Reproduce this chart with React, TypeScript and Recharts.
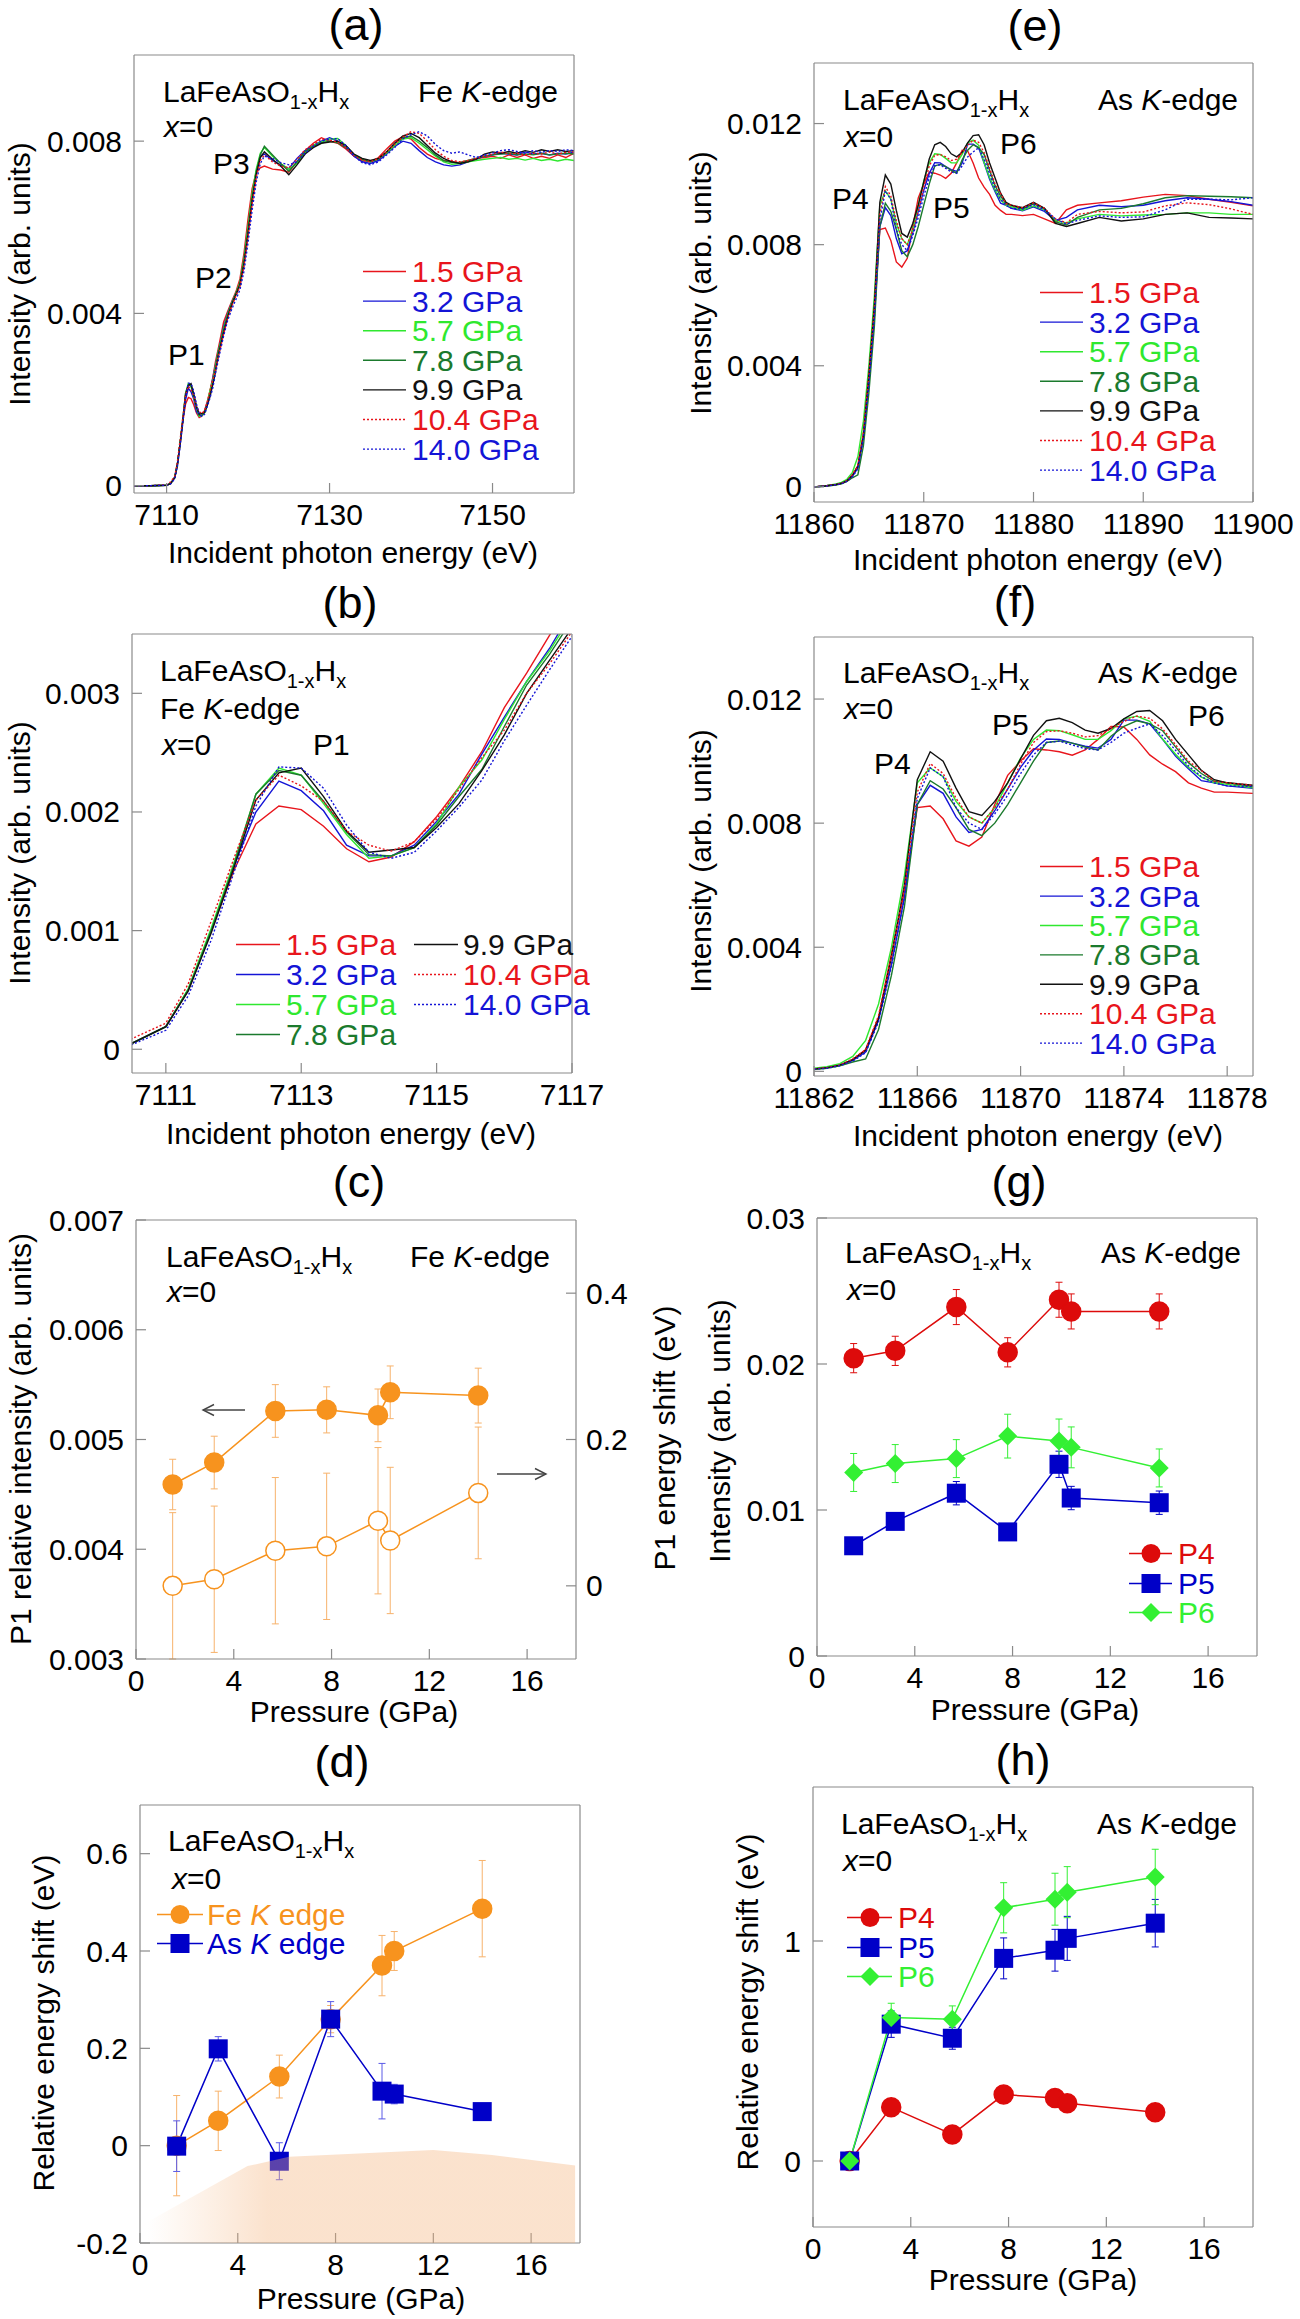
import React from 'react'
import { ComposedChart, Line, Area, XAxis, YAxis, ErrorBar } from 'recharts'

const FONT = "'Liberation Sans', Arial, Helvetica, sans-serif"

// ---- colours ----
const RED = '#e8151c'
const BLUE = '#1414d6'
const LGREEN = '#2fe82f'
const DGREEN = '#1b7a2d'
const BLACK = '#111111'
const ORANGE = '#f7931e'
const ORANGE_ERR = '#f7b26b'
const M_RED = '#dd0b0b'
const M_BLUE = '#0000c8'
const M_GREEN = '#33f033'
const GRAY = '#8a8a8a'

// ---- Fe K-edge spectra (panels a, b) ----
const FE_E = [
  7106, 7108, 7110, 7110.5, 7111, 7111.33, 7111.67, 7112, 7112.33, 7112.67,
  7113, 7113.33, 7113.67, 7114, 7114.33, 7114.67, 7115, 7115.33, 7115.67, 7116,
  7116.33, 7116.67, 7117, 7117.5, 7118, 7118.5, 7119, 7119.5, 7120, 7120.5,
  7121, 7121.5, 7122, 7123, 7124, 7125, 7126, 7127, 7128, 7129,
  7130, 7131, 7132, 7133, 7134, 7135, 7136, 7137, 7138, 7139,
  7140, 7141, 7142, 7143, 7144, 7145, 7146, 7147, 7148, 7149,
  7150, 7151, 7152, 7153, 7154, 7155, 7156, 7157, 7158, 7159, 7160,
]
const FE_P15 = [
  0, 0, 0.00001, 0.00005, 0.00019, 0.0005, 0.001, 0.0015, 0.0019, 0.00205,
  0.00202, 0.00188, 0.00169, 0.00158, 0.00162, 0.00175, 0.00196, 0.00221, 0.00251, 0.00288,
  0.00317, 0.00349, 0.0038, 0.00405, 0.00428, 0.0045, 0.0048, 0.0054, 0.0062, 0.0069,
  0.00728, 0.00738, 0.00742, 0.00735, 0.00733, 0.00728, 0.00752, 0.00778, 0.00795, 0.00808,
  0.008, 0.00795, 0.00782, 0.00765, 0.00755, 0.00752, 0.00762, 0.00782, 0.008, 0.0081,
  0.00805, 0.00785, 0.0077, 0.0076, 0.00755, 0.00752, 0.0075, 0.00755, 0.0076, 0.00762,
  0.00765, 0.0076, 0.00768, 0.00762, 0.00768, 0.0076, 0.00765, 0.0076, 0.00768, 0.00762, 0.00772,
]
const FE_P32 = [
  0, 0, 0.00001, 0.00005, 0.00019, 0.0005, 0.001, 0.00154, 0.002, 0.00226,
  0.00218, 0.00201, 0.00172, 0.00163, 0.00163, 0.00172, 0.00192, 0.00215, 0.00249, 0.0028,
  0.0031, 0.00338, 0.0037, 0.004, 0.00425, 0.00446, 0.0047, 0.00525, 0.00598, 0.00672,
  0.0073, 0.00765, 0.0077, 0.00755, 0.00745, 0.00736, 0.0076, 0.00778, 0.0079, 0.008,
  0.00808, 0.008, 0.00785, 0.00765, 0.00752, 0.00748, 0.00755, 0.0077, 0.00788, 0.008,
  0.00795, 0.00778, 0.00762, 0.00752, 0.00745, 0.00742, 0.00745, 0.00752, 0.00758, 0.00765,
  0.00768, 0.00772, 0.0077, 0.00768, 0.00775, 0.0077, 0.00772, 0.00768, 0.00772, 0.0077, 0.00775,
]
const FE_P57 = [
  0, 0, 0.00001, 0.00005, 0.00019, 0.00051, 0.00102, 0.00156, 0.00215, 0.00237,
  0.00231, 0.00207, 0.00181, 0.00161, 0.00163, 0.0017, 0.0019, 0.00221, 0.00244, 0.00278,
  0.0031, 0.00336, 0.00366, 0.00398, 0.00424, 0.00447, 0.00472, 0.00528, 0.00602, 0.00678,
  0.00735, 0.00772, 0.00785, 0.00765, 0.00748, 0.00735, 0.00748, 0.00772, 0.0079, 0.00798,
  0.00805, 0.00806, 0.0079, 0.00768, 0.00757, 0.00752, 0.0076, 0.00772, 0.0079, 0.00805,
  0.00808, 0.00795, 0.0078, 0.00765, 0.00752, 0.00746, 0.00748, 0.00752, 0.00755, 0.00758,
  0.0076, 0.00762, 0.00758, 0.0076, 0.00756, 0.0076, 0.00755, 0.00758, 0.00754, 0.00758, 0.00755,
]
const FE_P78 = [
  0, 0, 0.00001, 0.00005, 0.00019, 0.0005, 0.001, 0.00154, 0.00215, 0.00235,
  0.00231, 0.00209, 0.00183, 0.00164, 0.00163, 0.0017, 0.00189, 0.00213, 0.00236, 0.00272,
  0.00307, 0.00333, 0.00362, 0.00396, 0.00422, 0.00445, 0.00468, 0.0052, 0.00592, 0.00668,
  0.00728, 0.00768, 0.00788, 0.00768, 0.00748, 0.0073, 0.00752, 0.00776, 0.00788, 0.00796,
  0.008, 0.00796, 0.00785, 0.00768, 0.00758, 0.00752, 0.00758, 0.00775, 0.00795, 0.00808,
  0.00812, 0.008, 0.00785, 0.00768, 0.00755, 0.0075, 0.0075, 0.00755, 0.0076, 0.00765,
  0.00768, 0.0077, 0.00772, 0.00768, 0.0077, 0.00768, 0.00772, 0.00768, 0.0077, 0.00772, 0.0077,
]
const FE_P99 = [
  0, 0, 0.00001, 0.00005, 0.00019, 0.00049, 0.00098, 0.00152, 0.0021, 0.00233,
  0.00237, 0.00213, 0.00184, 0.00166, 0.00168, 0.0017, 0.00187, 0.00207, 0.00235, 0.00265,
  0.003, 0.00328, 0.00355, 0.00392, 0.0042, 0.00443, 0.00466, 0.00515, 0.00586, 0.00662,
  0.00722, 0.00762, 0.00775, 0.00758, 0.00742, 0.00722, 0.00745, 0.0077, 0.00785, 0.00795,
  0.00798, 0.008, 0.0079, 0.0077, 0.0076, 0.00755, 0.0076, 0.00775, 0.00795, 0.00812,
  0.00818, 0.00808, 0.0079, 0.00772, 0.0076, 0.00752, 0.00748, 0.00752, 0.00758, 0.0077,
  0.00775, 0.00772, 0.00776, 0.00772, 0.00778, 0.00774, 0.0078, 0.00776, 0.0078, 0.00776, 0.00778,
]
const FE_P104 = [
  0, 0, 0.00002, 0.00009, 0.00022, 0.00055, 0.00108, 0.0016, 0.0021, 0.00231,
  0.00222, 0.00209, 0.00184, 0.00172, 0.00167, 0.00175, 0.00194, 0.00219, 0.00246, 0.00269,
  0.003, 0.00325, 0.00352, 0.0039, 0.00417, 0.0044, 0.00463, 0.0051, 0.0058, 0.00655,
  0.00716, 0.00755, 0.00768, 0.00752, 0.00742, 0.00738, 0.00758, 0.0078, 0.00792, 0.00805,
  0.00802, 0.00798, 0.00785, 0.00766, 0.00756, 0.00752, 0.0076, 0.00775, 0.00793, 0.0081,
  0.00822, 0.00818, 0.008, 0.0078, 0.00765, 0.00755, 0.00752, 0.00755, 0.0076, 0.00765,
  0.0077, 0.00775, 0.0077, 0.00772, 0.00768, 0.00772, 0.0077, 0.00775, 0.0077, 0.00774, 0.00775,
]
const FE_P140 = [
  0, 0, 0.00001, 0.00004, 0.00016, 0.00045, 0.00092, 0.00148, 0.00205, 0.00238,
  0.00237, 0.0022, 0.00189, 0.00166, 0.00161, 0.00166, 0.00184, 0.00204, 0.00227, 0.0026,
  0.0029, 0.0032, 0.00348, 0.00384, 0.0041, 0.00432, 0.00455, 0.00498, 0.00565, 0.0064,
  0.00705, 0.00748, 0.00765, 0.0076, 0.0075, 0.00745, 0.00752, 0.00772, 0.00788, 0.008,
  0.00805, 0.00806, 0.0079, 0.00766, 0.0075, 0.00745, 0.00752, 0.00768, 0.00785, 0.00805,
  0.00815, 0.00822, 0.00812, 0.00792, 0.00778, 0.00772, 0.00775, 0.00768, 0.00762, 0.00768,
  0.00772, 0.00778, 0.0078, 0.00776, 0.00772, 0.00778, 0.00774, 0.00778, 0.00776, 0.0078, 0.00778,
]

// ---- As K-edge spectra (panels e, f) ----
const AS_E = [
  11860, 11861, 11862, 11862.5, 11863, 11863.5, 11864, 11864.5, 11865, 11865.5,
  11866, 11866.5, 11867, 11867.5, 11868, 11868.5, 11869, 11869.5, 11870, 11870.5,
  11871, 11871.5, 11872, 11872.5, 11873, 11873.5, 11874, 11874.5, 11875, 11875.5,
  11876, 11876.5, 11877, 11877.5, 11878, 11879, 11880, 11881, 11882, 11883,
  11884, 11886, 11888, 11890, 11892, 11894, 11896, 11898, 11900,
]
const AS_P15 = [
  0, 0.00003, 0.00008, 0.00012, 0.0002, 0.00038, 0.0007, 0.00175, 0.0038, 0.0058,
  0.0085, 0.00855, 0.00814, 0.00743, 0.00726, 0.00755, 0.0086, 0.00954, 0.01, 0.0104,
  0.01036, 0.0103, 0.01019, 0.01036, 0.0107, 0.01112, 0.0111, 0.0107, 0.0102, 0.0099,
  0.00966, 0.0093, 0.00913, 0.009, 0.009, 0.00896, 0.009, 0.00885, 0.0087, 0.00915,
  0.0093, 0.00938, 0.00945, 0.00957, 0.00966, 0.00962, 0.0095, 0.0094, 0.00928,
]
const AS_P32 = [
  0, 0.00003, 0.00008, 0.00012, 0.0002, 0.00035, 0.00062, 0.00165, 0.00345, 0.0056,
  0.0086, 0.00922, 0.00896, 0.0082, 0.0077, 0.0078, 0.0084, 0.0091, 0.0098, 0.01035,
  0.01071, 0.0107, 0.01058, 0.01048, 0.01042, 0.0107, 0.01132, 0.01132, 0.0112, 0.0107,
  0.01016, 0.00975, 0.00937, 0.0093, 0.0092, 0.00912, 0.00925, 0.0091, 0.0088, 0.0089,
  0.00915, 0.0093, 0.00925, 0.0093, 0.00945, 0.00955, 0.0095, 0.00942, 0.0093,
]
const AS_P57 = [
  0, 0.00003, 0.0001, 0.00015, 0.00025, 0.00048, 0.001, 0.00217, 0.004, 0.0063,
  0.0093, 0.00978, 0.0095, 0.0087, 0.0082, 0.008, 0.0085, 0.0093, 0.0101, 0.0107,
  0.011, 0.01098, 0.01085, 0.0107, 0.0107, 0.01098, 0.01136, 0.01145, 0.01128, 0.01071,
  0.01022, 0.0098, 0.00948, 0.0093, 0.00925, 0.00914, 0.00928, 0.00915, 0.0088, 0.00872,
  0.00885, 0.009, 0.00895, 0.00898, 0.009, 0.00905, 0.00905, 0.009, 0.009,
]
const AS_P78 = [
  0, 0.00002, 0.00006, 0.0001, 0.00018, 0.0003, 0.0004, 0.00135, 0.0031, 0.0053,
  0.0086, 0.00937, 0.0091, 0.0085, 0.0078, 0.0076, 0.008, 0.0086, 0.0093, 0.01,
  0.0106, 0.01065, 0.01058, 0.01045, 0.01036, 0.0108, 0.01112, 0.0113, 0.0112, 0.01098,
  0.01046, 0.00995, 0.0096, 0.00935, 0.0093, 0.00918, 0.00935, 0.0092, 0.00875, 0.00865,
  0.0089, 0.00915, 0.0092, 0.00935, 0.00955, 0.00962, 0.0096, 0.00958, 0.00955,
]
const AS_P99 = [
  0, 0.00003, 0.00008, 0.00012, 0.0002, 0.00038, 0.00068, 0.0017, 0.0037, 0.006,
  0.0094, 0.0103, 0.01, 0.00913, 0.00837, 0.00825, 0.0087, 0.0093, 0.01007, 0.01083,
  0.0113, 0.01138, 0.01124, 0.011, 0.0109, 0.01105, 0.01136, 0.0116, 0.01163, 0.0113,
  0.0107, 0.0102, 0.0097, 0.0094, 0.0093, 0.00922, 0.0094, 0.0092, 0.0087, 0.0086,
  0.0087, 0.0089, 0.00878, 0.00885, 0.009, 0.00905, 0.0089, 0.00888, 0.00885,
]
const AS_P104 = [
  0, 0.00003, 0.00008, 0.00012, 0.0002, 0.0004, 0.0007, 0.0018, 0.0037, 0.0059,
  0.009, 0.00992, 0.0096, 0.0088, 0.0082, 0.008, 0.0085, 0.0091, 0.0099, 0.0106,
  0.01095, 0.01098, 0.0109, 0.01078, 0.01082, 0.01105, 0.01128, 0.01145, 0.01138, 0.01104,
  0.01053, 0.01, 0.0097, 0.00935, 0.0093, 0.00922, 0.00938, 0.0092, 0.00885, 0.00872,
  0.009, 0.0091, 0.00905, 0.00908, 0.00928, 0.00938, 0.00932, 0.00918, 0.009,
]
const AS_P140 = [
  0, 0.00002, 0.00007, 0.0001, 0.00018, 0.00033, 0.0006, 0.0016, 0.0034, 0.0056,
  0.0088, 0.00978, 0.0095, 0.0085, 0.008, 0.0078, 0.0083, 0.0089, 0.0096, 0.0102,
  0.0106, 0.01064, 0.01052, 0.0104, 0.01036, 0.0106, 0.0109, 0.01106, 0.0112, 0.01082,
  0.01035, 0.00985, 0.0095, 0.0093, 0.0092, 0.00918, 0.00932, 0.00915, 0.00885, 0.00868,
  0.0088, 0.00895, 0.0089, 0.00892, 0.00915, 0.0095, 0.0095, 0.00948, 0.00955,
]

const SPECTRA = [
  { key: 'p15', label: '1.5 GPa', color: RED, dotted: false },
  { key: 'p32', label: '3.2 GPa', color: BLUE, dotted: false },
  { key: 'p57', label: '5.7 GPa', color: LGREEN, dotted: false },
  { key: 'p78', label: '7.8 GPa', color: DGREEN, dotted: false },
  { key: 'p99', label: '9.9 GPa', color: BLACK, dotted: false },
  { key: 'p104', label: '10.4 GPa', color: RED, dotted: true },
  { key: 'p140', label: '14.0 GPa', color: BLUE, dotted: true },
]

// ---- pressure dependences (panels c, d, g, h) ----
const PRESSURE = [1.5, 3.2, 5.7, 7.8, 9.9, 10.4, 14.0]

const P1_INT = [0.00459, 0.00479, 0.00526, 0.00527, 0.00522, 0.00543, 0.0054]
const P1_INT_ERR = [0.00023, 0.00024, 0.00024, 0.00021, 0.00024, 0.00024, 0.00025]
const P1_SHIFT = [0.0, 0.009, 0.048, 0.054, 0.089, 0.062, 0.127]
const P1_SHIFT_ERR = [0.1, 0.1, 0.1, 0.1, 0.1, 0.1, 0.09]

const FE_SHIFT = [0.0, 0.051, 0.142, 0.26, 0.37, 0.4, 0.487]
const FE_SHIFT_ERR = [0.103, 0.061, 0.044, 0.028, 0.062, 0.04, 0.099]
const AS_SHIFT = [-0.001, 0.199, -0.032, 0.26, 0.112, 0.106, 0.07]
const AS_SHIFT_ERR = [0.052, 0.025, 0.038, 0.036, 0.057, 0.02, 0.012]
const SHADE_P = [0.3, 4.4, 6.1, 12.0, 14.4, 17.8]
const SHADE_TOP = [-0.157, -0.042, -0.023, -0.009, -0.019, -0.041]

const P4_INT = [0.0204, 0.0209, 0.0239, 0.0208, 0.0244, 0.0236, 0.0236]
const P4_INT_ERR = [0.001, 0.001, 0.0012, 0.001, 0.0012, 0.0012, 0.0012]
const P5_INT = [0.00755, 0.00922, 0.01115, 0.0085, 0.01313, 0.01082, 0.0105]
const P5_INT_ERR = [0.0003, 0.0003, 0.0008, 0.0003, 0.0009, 0.0008, 0.0008]
const P6_INT = [0.01257, 0.01318, 0.01352, 0.01506, 0.01473, 0.01429, 0.01288]
const P6_INT_ERR = [0.0013, 0.0013, 0.0013, 0.0015, 0.0015, 0.0014, 0.0013]

const P4_SHIFT = [0, 0.244, 0.121, 0.302, 0.286, 0.262, 0.222]
const P5_SHIFT = [0, 0.622, 0.558, 0.921, 0.958, 1.012, 1.081]
const P5_SHIFT_ERR = [0.02, 0.06, 0.05, 0.093, 0.095, 0.1, 0.108]
const P6_SHIFT = [0, 0.652, 0.644, 1.151, 1.19, 1.222, 1.291]
const P6_SHIFT_ERR = [0.02, 0.065, 0.061, 0.114, 0.118, 0.116, 0.126]

// ---- tables ----
const feRows = FE_E.map((e, i) => ({
  e, p15: FE_P15[i], p32: FE_P32[i], p57: FE_P57[i], p78: FE_P78[i],
  p99: FE_P99[i], p104: FE_P104[i], p140: FE_P140[i],
}))
const asRows = AS_E.map((e, i) => ({
  e, p15: AS_P15[i], p32: AS_P32[i], p57: AS_P57[i], p78: AS_P78[i],
  p99: AS_P99[i], p104: AS_P104[i], p140: AS_P140[i],
}))
const cRows = PRESSURE.map((p, i) => ({
  p, int: P1_INT[i], intErr: P1_INT_ERR[i], shift: P1_SHIFT[i], shiftErr: P1_SHIFT_ERR[i],
}))
const dRows = PRESSURE.map((p, i) => ({
  p, fe: FE_SHIFT[i], feErr: FE_SHIFT_ERR[i], as: AS_SHIFT[i], asErr: AS_SHIFT_ERR[i],
}))
const shadeRows = SHADE_P.map((p, i) => ({ p, shade: SHADE_TOP[i] }))
const gRows = PRESSURE.map((p, i) => ({
  p, p4: P4_INT[i], p4Err: P4_INT_ERR[i], p5: P5_INT[i], p5Err: P5_INT_ERR[i],
  p6: P6_INT[i], p6Err: P6_INT_ERR[i],
}))
const hRows = PRESSURE.map((p, i) => ({
  p, p4: P4_SHIFT[i], p5: P5_SHIFT[i], p5Err: P5_SHIFT_ERR[i], p6: P6_SHIFT[i], p6Err: P6_SHIFT_ERR[i],
}))

// plot boxes on the page: [left, top, right, bottom]
const BOX = {
  a: [134, 55, 574, 493],
  b: [132, 634, 572, 1073],
  c: [136, 1220, 576, 1659],
  d: [140, 1805, 580, 2243],
  e: [814, 63, 1253, 502],
  f: [814, 637, 1253, 1076],
  g: [817, 1218, 1257, 1656],
  h: [813, 1787, 1253, 2227],
}

const steps = (a: number, b: number, s: number) => {
  const out: number[] = []
  for (let v = a; v <= b + s * 1e-6; v += s) out.push(+v.toFixed(6))
  return out
}

const TXT = { fontSize: 30, fontFamily: FONT, fill: '#000' }
const AX = { stroke: GRAY, strokeWidth: 1.2 }
const MAJOR = 10
const MINOR = 5.5
// every side carries two 1px axes (minor ticks, then major ticks / labels)
const AXIS_PX = 1
const PER_SIDE = 2

const bottomTick = (p: any) => (
  <text x={p.x} y={p.y + 21} textAnchor="middle" {...TXT}>{String(p.payload.value)}</text>
)
const leftTick = (p: any) => (
  <text x={p.x} y={p.y + 10.5} textAnchor="end" {...TXT}>{String(p.payload.value)}</text>
)
const rightTick = (p: any) => (
  <text x={p.x} y={p.y + 10.5} textAnchor="start" {...TXT}>{String(p.payload.value)}</text>
)

// Boxed frame with inward ticks on all four sides.
function frame(o: any) {
  const base = { type: 'number' as const, allowDataOverflow: true, interval: 0 as const, tickLine: AX }
  const xMinor = o.xMinor ?? o.xTicks
  const yMinor = o.yMinor ?? o.yTicks
  const r = o.right
  const rDomain = r ? r.domain : o.y
  const rMinor = r ? r.minor : yMinor
  return [
    <XAxis key="xbm" xAxisId="xbm" orientation="bottom" height={AXIS_PX} {...base} domain={o.x} ticks={xMinor} tick={false} tickSize={-MINOR} axisLine={false} />,
    <XAxis key="xtm" xAxisId="xtm" orientation="top" height={AXIS_PX} {...base} domain={o.x} ticks={xMinor} tick={false} tickSize={-MINOR} axisLine={false} />,
    <YAxis key="ylm" yAxisId="ylm" orientation="left" width={AXIS_PX} {...base} domain={o.y} ticks={yMinor} tick={false} tickSize={-MINOR} axisLine={false} />,
    <YAxis key="yrm" yAxisId="yrm" orientation="right" width={AXIS_PX} {...base} domain={rDomain} ticks={rMinor} tick={false} tickSize={-MINOR} axisLine={false} />,
    <XAxis key="xt" xAxisId="xt" orientation="top" height={AXIS_PX} {...base} domain={o.x} ticks={o.xTicks} tick={false} tickSize={-MAJOR} axisLine={AX} />,
    <YAxis key="yr" yAxisId="yr" orientation="right" width={AXIS_PX} {...base} domain={rDomain} ticks={r ? r.ticks : o.yTicks} tick={r ? rightTick : false} tickSize={-MAJOR} tickMargin={MAJOR + 10} axisLine={AX} />,
    <XAxis key="x" xAxisId="x" dataKey={o.xKey} orientation="bottom" height={AXIS_PX} {...base} domain={o.x} ticks={o.xTicks} tick={bottomTick} tickSize={-MAJOR} tickMargin={MAJOR + 11} axisLine={AX} />,
    <YAxis key="y" yAxisId="y" orientation="left" width={AXIS_PX} {...base} domain={o.y} ticks={o.yTicks} tick={leftTick} tickSize={-MAJOR} tickMargin={MAJOR + 12} axisLine={AX} />,
  ]
}

// bare = only hidden axes inside, so nothing takes space from the margin
function Panel({ box, data, right = 50, bare = false, children }: any) {
  const [x0, y0, x1, y1] = box
  const m = { top: 20, right, bottom: 60, left: 115 }
  const k = bare ? 0 : AXIS_PX * PER_SIDE
  return (
    <div style={{ position: 'absolute', left: x0 - m.left, top: y0 - m.top }}>
      <ComposedChart width={x1 - x0 + m.left + m.right} height={y1 - y0 + m.top + m.bottom} data={data}
        margin={{ top: m.top - k, right: m.right - k, bottom: m.bottom - k, left: m.left - k }}>
        {children}
      </ComposedChart>
    </div>
  )
}

const spectraLines = () =>
  SPECTRA.map((s) => (
    <Line key={s.key} type="linear" xAxisId="x" yAxisId="y" dataKey={s.key} stroke={s.color}
      strokeWidth={1.4} strokeDasharray={s.dotted ? '2 2' : undefined}
      dot={false} activeDot={false} isAnimationActive={false} />
  ))

// marker renderers
const R = 9.5
const circleDot = (fill: string, stroke = fill) => (p: any) =>
  p.cy == null ? <g key={`n${p.index}`} /> : (
    <circle key={`c${p.index}`} cx={p.cx} cy={p.cy} r={R} fill={fill} stroke={stroke} strokeWidth={1.5} />
  )
const squareDot = (fill: string) => (p: any) =>
  p.cy == null ? <g key={`n${p.index}`} /> : (
    <rect key={`s${p.index}`} x={p.cx - R} y={p.cy - R} width={2 * R} height={2 * R} fill={fill} />
  )
const diamondDot = (fill: string) => (p: any) =>
  p.cy == null ? <g key={`n${p.index}`} /> : (
    <polygon key={`d${p.index}`} fill={fill}
      points={`${p.cx},${p.cy - R} ${p.cx + R},${p.cy} ${p.cx},${p.cy + R} ${p.cx - R},${p.cy}`} />
  )

const pLine = (key: string, color: string, dot: any, yAxisId = 'y', err?: string, errColor = color) => (
  <Line key={key} type="linear" xAxisId="x" yAxisId={yAxisId} dataKey={key} stroke={color}
    strokeWidth={1.5} dot={dot} activeDot={false} isAnimationActive={false} connectNulls>
    {err ? <ErrorBar dataKey={err} width={3.5} stroke={errColor} strokeWidth={1} direction="y" /> : null}
  </Line>
)

// ---- text helpers ----
const T = { fontFamily: FONT, fontSize: 30, fill: '#000' }

const Formula = ({ x, y }: any) => (
  <text x={x} y={y} {...T}>
    LaFeAsO<tspan fontSize={20} dy={7}>1-x</tspan>
    <tspan dy={-7}>H</tspan>
    <tspan fontSize={20} dy={7}>x</tspan>
  </text>
)
const XZero = ({ x, y }: any) => (
  <text x={x} y={y} {...T}><tspan fontStyle="italic">x</tspan>=0</text>
)
const Edge = ({ x, y, el, anchor = 'end' }: any) => (
  <text x={x} y={y} textAnchor={anchor} {...T}>{el} <tspan fontStyle="italic">K</tspan>-edge</text>
)
const Title = ({ x, y, s }: any) => (
  <text x={x} y={y} textAnchor="middle" fontFamily={FONT} fontSize={45}>{s}</text>
)
const Plain = ({ x, y, s }: any) => <text x={x} y={y} {...T}>{s}</text>
const XLabel = ({ x, y, s }: any) => <text x={x} y={y} textAnchor="middle" {...T}>{s}</text>
const YLabel = ({ x, y, s }: any) => (
  <text transform={`translate(${x},${y}) rotate(-90)`} textAnchor="middle" dominantBaseline="central" {...T}>{s}</text>
)

const SpecLegend = ({ x0, x1, tx, ys, items }: any) => (
  <g>
    {items.map((s: any, i: number) => (
      <g key={s.key}>
        <line x1={x0} x2={x1} y1={ys[i] - 10.5} y2={ys[i] - 10.5} stroke={s.color} strokeWidth={1.4}
          strokeDasharray={s.dotted ? '2 2' : undefined} />
        <text x={tx} y={ys[i]} {...T} fill={s.color}>{s.label}</text>
      </g>
    ))}
  </g>
)

const MarkLegend = ({ x0, x1, mx, tx, y, color, marker, children }: any) => {
  const cy = y - 10.5
  let m: any = null
  if (marker === 'circle') m = <circle cx={mx} cy={cy} r={R} fill={color} />
  if (marker === 'square') m = <rect x={mx - R} y={cy - R} width={2 * R} height={2 * R} fill={color} />
  if (marker === 'diamond') m = <polygon fill={color} points={`${mx},${cy - R} ${mx + R},${cy} ${mx},${cy + R} ${mx - R},${cy}`} />
  return (
    <g>
      <line x1={x0} x2={x1} y1={cy} y2={cy} stroke={color} strokeWidth={1.5} />
      {m}
      <text x={tx} y={y} {...T} fill={color}>{children}</text>
    </g>
  )
}

function Overlay() {
  const aY = [282, 311.6, 341.2, 370.8, 400.4, 430, 459.6]
  const eY = [303, 332.6, 362.2, 391.8, 421.4, 451, 480.6]
  const fY = [877, 906.6, 936, 965.4, 994.8, 1024.2, 1053.6]
  return (
    <svg width={1300} height={2319} style={{ position: 'absolute', left: 0, top: 0, pointerEvents: 'none' }}>
      {/* (a) */}
      <Title x={356} y={40} s="(a)" />
      <Formula x={163} y={102} />
      <XZero x={164} y={137} />
      <Edge x={558} y={102} el="Fe" />
      <Plain x={168} y={365} s="P1" />
      <Plain x={195} y={288} s="P2" />
      <Plain x={213} y={174} s="P3" />
      <SpecLegend x0={363} x1={406} tx={412} ys={aY} items={SPECTRA} />
      <YLabel x={19} y={274} s="Intensity (arb. units)" />
      <XLabel x={353} y={563} s="Incident photon energy (eV)" />

      {/* (b) */}
      <Title x={350} y={618} s="(b)" />
      <Formula x={160} y={681} />
      <Edge x={160} y={719} el="Fe" anchor="start" />
      <XZero x={162} y={755} />
      <Plain x={313} y={755} s="P1" />
      <SpecLegend x0={236} x1={280} tx={286} ys={[955, 985, 1015, 1045]} items={SPECTRA.slice(0, 4)} />
      <SpecLegend x0={414} x1={458} tx={463} ys={[955, 985, 1015]} items={SPECTRA.slice(4)} />
      <YLabel x={19} y={853} s="Intensity (arb. units)" />
      <XLabel x={351} y={1144} s="Incident photon energy (eV)" />

      {/* (c) */}
      <Title x={359} y={1197} s="(c)" />
      <Formula x={166} y={1267} />
      <XZero x={167} y={1302} />
      <Edge x={550} y={1267} el="Fe" />
      <g stroke="#444" strokeWidth={1.4} fill="none">
        <line x1={245} y1={1410} x2={203} y2={1410} />
        <polyline points="214,1404.5 203,1410 214,1415.5" />
        <line x1={497} y1={1474} x2={546} y2={1474} />
        <polyline points="535,1468.5 546,1474 535,1479.5" />
      </g>
      <YLabel x={20} y={1439} s="P1 relative intensity (arb. units)" />
      <YLabel x={664} y={1438} s="P1 energy shift (eV)" />
      <XLabel x={354} y={1722} s="Pressure (GPa)" />

      {/* (d) */}
      <Title x={342} y={1777} s="(d)" />
      <Formula x={168} y={1851} />
      <XZero x={172} y={1889} />
      <MarkLegend x0={157} x1={203} mx={180} tx={207} y={1925} color={ORANGE} marker="circle">
        Fe <tspan fontStyle="italic">K</tspan> edge
      </MarkLegend>
      <MarkLegend x0={157} x1={203} mx={180} tx={207} y={1954} color={M_BLUE} marker="square">
        As <tspan fontStyle="italic">K</tspan> edge
      </MarkLegend>
      <YLabel x={43} y={2023} s="Relative energy shift (eV)" />
      <XLabel x={361} y={2309} s="Pressure (GPa)" />

      {/* (e) */}
      <Title x={1035} y={41} s="(e)" />
      <Formula x={843} y={110} />
      <XZero x={844} y={147} />
      <Edge x={1238} y={110} el="As" />
      <Plain x={832} y={209} s="P4" />
      <Plain x={933} y={218} s="P5" />
      <Plain x={1000} y={154} s="P6" />
      <SpecLegend x0={1040} x1={1083} tx={1089} ys={eY} items={SPECTRA} />
      <YLabel x={700} y={283} s="Intensity (arb. units)" />
      <XLabel x={1038} y={570} s="Incident photon energy (eV)" />

      {/* (f) */}
      <Title x={1015} y={617} s="(f)" />
      <Formula x={843} y={683} />
      <XZero x={844} y={719} />
      <Edge x={1238} y={683} el="As" />
      <Plain x={874} y={774} s="P4" />
      <Plain x={992} y={735} s="P5" />
      <Plain x={1188} y={726} s="P6" />
      <SpecLegend x0={1040} x1={1083} tx={1089} ys={fY} items={SPECTRA} />
      <YLabel x={700} y={861} s="Intensity (arb. units)" />
      <XLabel x={1038} y={1146} s="Incident photon energy (eV)" />

      {/* (g) */}
      <Title x={1019} y={1197} s="(g)" />
      <Formula x={845} y={1263} />
      <XZero x={847} y={1300} />
      <Edge x={1241} y={1263} el="As" />
      <MarkLegend x0={1129} x1={1172} mx={1151} tx={1178} y={1564} color={M_RED} marker="circle">P4</MarkLegend>
      <MarkLegend x0={1129} x1={1172} mx={1151} tx={1178} y={1594} color={M_BLUE} marker="square">P5</MarkLegend>
      <MarkLegend x0={1129} x1={1172} mx={1151} tx={1178} y={1623} color={M_GREEN} marker="diamond">P6</MarkLegend>
      <YLabel x={719} y={1431} s="Intensity (arb. units)" />
      <XLabel x={1035} y={1720} s="Pressure (GPa)" />

      {/* (h) */}
      <Title x={1023} y={1775} s="(h)" />
      <Formula x={841} y={1834} />
      <XZero x={843} y={1871} />
      <Edge x={1237} y={1834} el="As" />
      <MarkLegend x0={847} x1={892} mx={870} tx={898} y={1928} color={M_RED} marker="circle">P4</MarkLegend>
      <MarkLegend x0={847} x1={892} mx={870} tx={898} y={1958} color={M_BLUE} marker="square">P5</MarkLegend>
      <MarkLegend x0={847} x1={892} mx={870} tx={898} y={1987} color={M_GREEN} marker="diamond">P6</MarkLegend>
      <YLabel x={747} y={2002} s="Relative energy shift (eV)" />
      <XLabel x={1033} y={2290} s="Pressure (GPa)" />
    </svg>
  )
}

const P_TICKS = [0, 4, 8, 12, 16]
const P_MINOR = steps(0, 18, 1)

export default function App() {
  return (
    <div style={{ position: 'absolute', left: 0, top: 0, width: 1300, height: 2319, overflow: 'hidden', background: '#fff', fontFamily: FONT }}>
      <svg width={0} height={0} style={{ position: 'absolute' }}>
        <defs>
          <linearGradient id="peachFade" x1="0" y1="0" x2="1" y2="0">
            <stop offset="0" stopColor="#f4b27a" stopOpacity={0} />
            <stop offset="0.28" stopColor="#f4b27a" stopOpacity={0.62} />
            <stop offset="1" stopColor="#f4b27a" stopOpacity={0.62} />
          </linearGradient>
        </defs>
      </svg>

      {/* (a) Fe K-edge, full range */}
      <Panel box={BOX.a} data={feRows}>
        {frame({ xKey: 'e', x: [7106, 7160], y: [-0.00017, 0.01], xTicks: [7110, 7130, 7150],
          xMinor: steps(7110, 7158, 4), yTicks: [0, 0.004, 0.008], yMinor: steps(0, 0.0095, 0.0005) })}
        {spectraLines()}
      </Panel>

      {/* (b) Fe K-edge, pre-edge P1 */}
      <Panel box={BOX.b} data={feRows}>
        {frame({ xKey: 'e', x: [7110.5, 7117], y: [-0.0002, 0.0035], xTicks: [7111, 7113, 7115, 7117],
          xMinor: steps(7110.6, 7117, 0.2), yTicks: [0, 0.001, 0.002, 0.003], yMinor: steps(0, 0.0035, 0.00025) })}
        {spectraLines()}
      </Panel>

      {/* (c) P1 intensity and energy shift */}
      <Panel box={BOX.c} data={cRows} right={95}>
        {frame({ xKey: 'p', x: [0, 18], y: [0.003, 0.007], xTicks: P_TICKS, xMinor: P_MINOR,
          yTicks: [0.003, 0.004, 0.005, 0.006, 0.007], yMinor: steps(0.003, 0.007, 0.0005),
          right: { domain: [-0.1, 0.5], ticks: [0, 0.2, 0.4], minor: steps(-0.1, 0.5, 0.02) } })}
        {pLine('shift', ORANGE, circleDot('#fff', ORANGE), 'yr', 'shiftErr', ORANGE_ERR)}
        {pLine('int', ORANGE, circleDot(ORANGE), 'y', 'intErr', ORANGE_ERR)}
      </Panel>

      {/* (d) edge shifts */}
      <Panel box={BOX.d} data={dRows}>
        {frame({ xKey: 'p', x: [0, 18], y: [-0.2, 0.7], xTicks: P_TICKS, yTicks: [-0.2, 0, 0.2, 0.4, 0.6] })}
        {pLine('fe', ORANGE, circleDot(ORANGE), 'y', 'feErr', ORANGE_ERR)}
        {pLine('as', M_BLUE, squareDot(M_BLUE), 'y', 'asErr', '#5a5ae6')}
      </Panel>
      {/* translucent band laid over the (d) markers, same scales */}
      <Panel box={BOX.d} data={shadeRows} bare>
        <XAxis xAxisId="x" dataKey="p" type="number" domain={[0, 18]} allowDataOverflow hide />
        <YAxis yAxisId="y" type="number" domain={[-0.2, 0.7]} allowDataOverflow hide />
        <Area type="linear" xAxisId="x" yAxisId="y" dataKey="shade" baseValue={-0.2}
          fill="url(#peachFade)" stroke="none" dot={false} activeDot={false} isAnimationActive={false} />
      </Panel>

      {/* (e) As K-edge, full range */}
      <Panel box={BOX.e} data={asRows}>
        {frame({ xKey: 'e', x: [11860, 11900], y: [-0.0005, 0.014], xTicks: [11860, 11870, 11880, 11890, 11900],
          xMinor: steps(11860, 11900, 2), yTicks: [0, 0.004, 0.008, 0.012], yMinor: steps(0, 0.014, 0.001) })}
        {spectraLines()}
      </Panel>

      {/* (f) As K-edge, near edge */}
      <Panel box={BOX.f} data={asRows}>
        {frame({ xKey: 'e', x: [11862, 11879], y: [-0.00015, 0.014], xTicks: [11862, 11866, 11870, 11874, 11878],
          xMinor: steps(11862, 11879, 1), yTicks: [0, 0.004, 0.008, 0.012], yMinor: steps(0, 0.014, 0.001) })}
        {spectraLines()}
      </Panel>

      {/* (g) P4-P6 intensities */}
      <Panel box={BOX.g} data={gRows}>
        {frame({ xKey: 'p', x: [0, 18], y: [0, 0.03], xTicks: P_TICKS, xMinor: P_MINOR,
          yTicks: [0, 0.01, 0.02, 0.03], yMinor: steps(0, 0.03, 0.001) })}
        {pLine('p4', M_RED, circleDot(M_RED), 'y', 'p4Err')}
        {pLine('p5', M_BLUE, squareDot(M_BLUE), 'y', 'p5Err')}
        {pLine('p6', M_GREEN, diamondDot(M_GREEN), 'y', 'p6Err')}
      </Panel>

      {/* (h) P4-P6 energy shifts */}
      <Panel box={BOX.h} data={hRows}>
        {frame({ xKey: 'p', x: [0, 18], y: [-0.3, 1.7], xTicks: P_TICKS, xMinor: P_MINOR,
          yTicks: [0, 1], yMinor: steps(-0.3, 1.7, 0.1) })}
        {pLine('p4', M_RED, circleDot(M_RED))}
        {pLine('p5', M_BLUE, squareDot(M_BLUE), 'y', 'p5Err')}
        {pLine('p6', M_GREEN, diamondDot(M_GREEN), 'y', 'p6Err')}
      </Panel>

      <Overlay />
    </div>
  )
}
